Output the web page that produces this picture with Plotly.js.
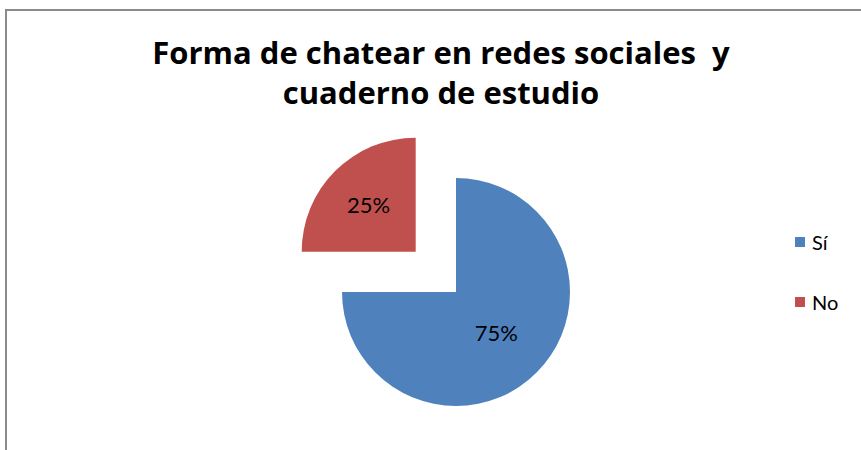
<!DOCTYPE html>
<html>
<head>
<meta charset="utf-8">
<script src="https://cdn.plot.ly/plotly-3.0.1.min.js"></script>
<style>
html, body { margin:0; padding:0; overflow:hidden; background:#fff; width:861px; height:450px; }
#chart { position:absolute; left:0; top:0; }
#frame { position:absolute; left:5px; top:9px; width:900px; height:500px;
  border-left:2px solid #8a8a8a; border-top:2px solid #8a8a8a; pointer-events:none; }
</style>
</head>
<body>
<div id="chart"></div>
<div id="frame"></div>
<script>
const titleText = "Forma de chatear en redes sociales&nbsp; y<br>cuaderno de estudio";
const labels = ["Sí", "No"];
const values = [75, 25];
const colors = ["#4F81BD", "#C0504D"];
const pulls = [0, 0.5];

const W = 861, H = 500;
const FONT = "Lato, 'Open Sans', sans-serif";
const TFONT = "'Open Sans', Lato, sans-serif";

// pie box in pixels (page coords)
const cx = 456, cy = 292, half = 171;
const domain = {
  x: [(cx - half) / W, (cx + half) / W],
  y: [(H - cy - half) / H, (H - cy + half) / H]
};

const shapes = [];
const annotations = [];
const legX = 795, legY0 = 242, legStep = 60, sq = 10;
labels.forEach((lab, i) => {
  const yc = legY0 + i * legStep;
  shapes.push({
    type: "rect", xref: "paper", yref: "paper",
    x0: legX / W, x1: (legX + sq) / W,
    y0: (H - yc - sq / 2) / H, y1: (H - yc + sq / 2) / H,
    fillcolor: colors[i], line: { width: 0 }
  });
  annotations.push({
    xref: "paper", yref: "paper", x: (legX + sq + 5) / W, y: (H - yc) / H,
    xanchor: "left", yanchor: "middle", text: lab, showarrow: false,
    font: { family: FONT, size: 20, color: "#000" }
  });
});

const data = [{
  type: "pie",
  labels: labels,
  values: values,
  sort: false,
  direction: "clockwise",
  rotation: 0,
  pull: pulls,
  marker: { colors: colors, line: { width: 0 } },
  textinfo: "percent",
  texttemplate: "%{percent:.0%}",
  textposition: "inside",
  insidetextorientation: "horizontal",
  textfont: { family: FONT, size: 22, color: "#000" },
  domain: domain,
  showlegend: false,
  hoverinfo: "label+percent"
}];

const layout = {
  width: W, height: H,
  margin: { l: 0, r: 0, t: 0, b: 0 },
  paper_bgcolor: "#fff",
  plot_bgcolor: "#fff",
  title: {
    text: "<b>" + titleText + "</b>",
    font: { family: TFONT, size: 31, color: "#000" },
    x: 441 / W, xanchor: "center",
    y: 1 - 64 / H, yanchor: "top", yref: "container"
  },
  shapes: shapes,
  annotations: annotations,
  showlegend: false
};

Plotly.newPlot("chart", data, layout, { displayModeBar: false, staticPlot: true });
</script>
</body>
</html>
